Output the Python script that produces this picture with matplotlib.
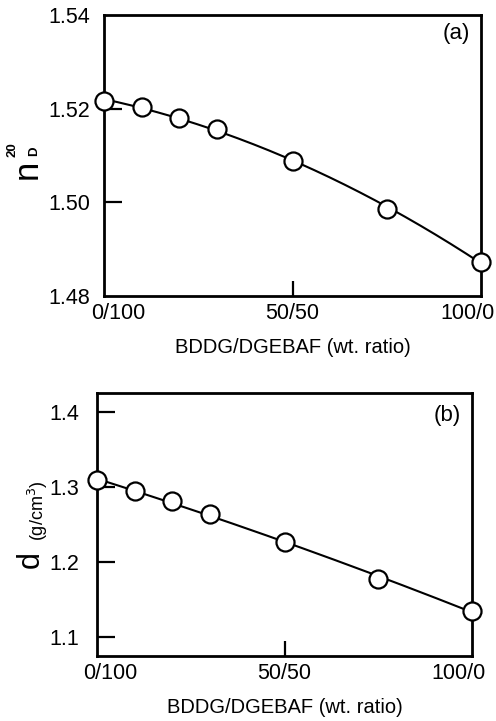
import numpy as np
import matplotlib
matplotlib.use('Agg')
import matplotlib.pyplot as plt
from matplotlib.transforms import ScaledTranslation

plt.rcParams['font.family'] = ['Liberation Sans', 'DejaVu Sans']

# BDDG content (wt %) in BDDG/DGEBAF blends
bddg = [0, 10, 20, 30, 50, 75, 100]
# refractive index n_D^20
n_d = [1.5216, 1.5203, 1.5181, 1.5157, 1.5088, 1.4985, 1.4873]
# density (g/cm3)
density = [1.309, 1.294, 1.281, 1.264, 1.226, 1.178, 1.135]

x_ticks = [0, 50, 100]
x_ticklabels = ['0/100', '50/50', '100/0']
xlabel = 'BDDG/DGEBAF (wt. ratio)'

fig = plt.figure(figsize=(4.96, 7.21), dpi=100)
ax1 = fig.add_axes([0.2097, 0.5895, 0.7601, 0.3897])
ax2 = fig.add_axes([0.1956, 0.0902, 0.7560, 0.3648])


def draw_panel(ax, y, ylim, yticks, yfmt, ypad, label_shift, tag, tag_xy):
    # smooth curve through the measured points
    coef = np.polyfit(bddg, y, 2)
    xs = np.linspace(0, 100, 200)
    ax.plot(xs, np.polyval(coef, xs), color='black', lw=1.5, zorder=2)
    ax.plot(bddg, y, 'o', ms=13, mfc='white', mec='black', mew=1.6,
            zorder=3, clip_on=False)
    ax.set_xlim(0, 100)
    ax.set_ylim(*ylim)
    ax.set_yticks(yticks)
    ax.set_yticklabels([yfmt % v for v in yticks])
    ax.set_xticks(x_ticks)
    ax.set_xticklabels(x_ticklabels)
    for sp in ax.spines.values():
        sp.set_linewidth(2)
    ax.tick_params(axis='y', direction='in', length=13, width=1.6,
                   labelsize=15.5, pad=ypad)
    ax.tick_params(axis='x', direction='in', length=11, width=1.6,
                   labelsize=15.5, pad=5)
    xt = ax.xaxis.get_major_ticks()
    xt[0].tick1line.set_visible(False)
    xt[2].tick1line.set_visible(False)
    labs = ax.get_xticklabels()
    labs[0].set_transform(labs[0].get_transform() +
                          ScaledTranslation(label_shift / 100, 0, fig.dpi_scale_trans))
    labs[2].set_transform(labs[2].get_transform() +
                          ScaledTranslation(-label_shift / 100, 0, fig.dpi_scale_trans))
    ax.set_xlabel(xlabel, fontsize=14.5, labelpad=10)
    ax.text(tag_xy[0], tag_xy[1], tag, transform=ax.transAxes,
            fontsize=16, ha='center', va='center')


draw_panel(ax1, n_d, (1.48, 1.54), [1.48, 1.50, 1.52, 1.54], '%.2f', 10, 14,
           '(a)', (0.935, 0.935))
draw_panel(ax2, density, (1.075, 1.425), [1.1, 1.2, 1.3, 1.4], '%.1f', 13, 13,
           '(b)', (0.935, 0.915))
ax1.yaxis.get_major_ticks()[0].tick1line.set_visible(False)
ax1.yaxis.get_major_ticks()[3].tick1line.set_visible(False)

# y label of panel (a): n with stacked superscript 20 and subscript D
fig.text(27 / 496, 1 - 169 / 721, 'n', rotation=90, fontsize=25,
         ha='center', va='center')
fig.text(13 / 496, 1 - 150 / 721, '20', rotation=90, fontsize=9.5,
         fontweight='bold', ha='center', va='center')
fig.text(34 / 496, 1 - 151 / 721, 'D', rotation=90, fontsize=9.5,
         fontweight='bold', ha='center', va='center')

# y label of panel (b)
fig.text(31 / 496, 1 - 560 / 721, 'd', rotation=90, fontsize=22,
         ha='center', va='center')
fig.text(38 / 496, 1 - 511 / 721, r'(g/cm$^3$)', rotation=90, fontsize=13,
         ha='center', va='center')

fig.savefig('out.png', dpi=100)
